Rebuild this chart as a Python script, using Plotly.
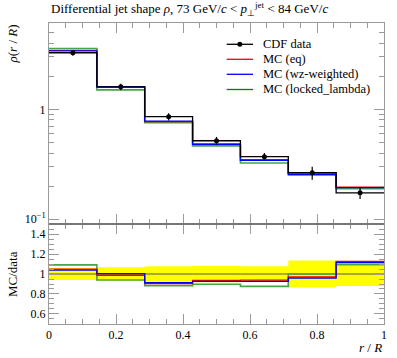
import plotly.graph_objects as go

# ---- data ----
bin_edges = [0.0, 0.1429, 0.2857, 0.4286, 0.5714, 0.7143, 0.8571, 1.0]
bin_centers = [0.0714, 0.2143, 0.3571, 0.5, 0.6429, 0.7857, 0.9286]
data_vals = [3.27, 1.60, 0.857, 0.518, 0.371, 0.265, 0.174]
data_errs = [0.196, 0.107, 0.066, 0.043, 0.029, 0.036, 0.021]
mc_eq = [3.43, 1.58, 0.774, 0.485, 0.348, 0.257, 0.196]
mc_wz = [3.40, 1.605, 0.782, 0.480, 0.344, 0.254, 0.194]
mc_locked = [3.57, 1.504, 0.757, 0.465, 0.325, 0.265, 0.190]

title_html = ("Differential jet shape <i>ρ</i>, 73 GeV/<i>c</i> &lt; "
              "<i>p</i><sub>⊥</sub><sup>jet</sup> &lt; 84 GeV/<i>c</i>")
legend_names = ["CDF data", "MC (eq)", "MC (wz-weighted)", "MC (locked_lambda)"]

FONT = "Liberation Serif"
FRAME = "#9a9a9a"


def step(vals):
    return list(vals) + [vals[-1]]


fig = go.Figure()

series = [
    (mc_locked, "rgb(70,165,70)", 1.6),
    (mc_eq, "red", 1.3),
    (mc_wz, "blue", 1.3),
]

# ---- main panel ----
for vals, col, w in series:
    fig.add_trace(go.Scatter(x=bin_edges, y=step(vals), mode="lines",
                             line=dict(color=col, width=w, shape="hv"),
                             xaxis="x2", yaxis="y2", showlegend=False))
fig.add_trace(go.Scatter(x=bin_edges, y=step(data_vals), mode="lines",
                         line=dict(color="black", width=1.3, shape="hv"),
                         xaxis="x2", yaxis="y2", showlegend=False))
fig.add_trace(go.Scatter(x=bin_centers, y=data_vals, mode="markers",
                         marker=dict(color="black", size=5),
                         error_y=dict(type="data", array=data_errs, color="black",
                                      thickness=1.2, width=0),
                         xaxis="x2", yaxis="y2", showlegend=False))

# ---- ratio panel ----
rel = [e / v for e, v in zip(data_errs, data_vals)]
lo = [1 - r for r in rel]
hi = [1 + r for r in rel]
fig.add_trace(go.Scatter(x=bin_edges, y=step(lo), mode="lines",
                         line=dict(width=0, shape="hv", color="yellow"),
                         showlegend=False, hoverinfo="skip"))
fig.add_trace(go.Scatter(x=bin_edges, y=step(hi), mode="lines",
                         line=dict(width=0, shape="hv", color="yellow"),
                         fill="tonexty", fillcolor="#ffff00",
                         showlegend=False, hoverinfo="skip"))
fig.add_trace(go.Scatter(x=bin_edges, y=step([1.0] * len(data_vals)), mode="lines",
                         line=dict(color="#555555", width=1, shape="hv"),
                         showlegend=False))
for vals, col, w in series:
    ratio = [m / d for m, d in zip(vals, data_vals)]
    fig.add_trace(go.Scatter(x=bin_edges, y=step(ratio), mode="lines",
                             line=dict(color=col, width=w, shape="hv"),
                             showlegend=False))

# ---- axes ----
common_x = dict(range=[0, 1], showgrid=False, zeroline=False, showline=True,
                linecolor=FRAME, linewidth=1, mirror="ticks", ticks="inside",
                ticklen=10, tickcolor=FRAME, automargin=False,
                minor=dict(ticks="inside", ticklen=5, dtick=0.05, tick0=0,
                           tickcolor=FRAME))
fig.update_layout(
    width=397, height=358, autosize=False,
    margin=dict(l=49, r=13, t=23, b=34),
    paper_bgcolor="white", plot_bgcolor="white",
    font=dict(family=FONT, size=12, color="black"),
    xaxis=dict(**common_x, anchor="y", tickvals=[0, 0.2, 0.4, 0.6, 0.8, 1],
               ticktext=["0", "0.2", "0.4", "0.6", "0.8", "1"],
               tickfont=dict(family=FONT, size=12)),
    xaxis2=dict(**common_x, anchor="y2", matches="x", showticklabels=False,
                tickvals=[0, 0.2, 0.4, 0.6, 0.8, 1]),
    yaxis=dict(domain=[0, 0.3322], range=[0.5, 1.5], showgrid=False, zeroline=False,
               showline=True, linecolor=FRAME, mirror="ticks", ticks="inside",
               ticklen=10, tickcolor=FRAME, automargin=False,
               tickvals=[0.6, 0.8, 1.0, 1.2, 1.4],
               ticktext=["0.6", "0.8", "1", "1.2", "1.4"],
               minor=dict(ticks="inside", ticklen=5, dtick=0.05, tick0=0.5,
                          tickcolor=FRAME),
               tickfont=dict(family=FONT, size=12)),
    yaxis2=dict(domain=[0.3322, 1], type="log", range=[-1.043, 0.785],
                showgrid=False, zeroline=False, showline=True, linecolor=FRAME,
                mirror="ticks", ticks="inside", ticklen=10, tickcolor=FRAME,
                automargin=False,
                tickvals=[0.1, 1], ticktext=["10<sup>−1</sup>", "1"],
                minor=dict(ticks="inside", ticklen=5, tickcolor=FRAME,
                           tickvals=[0.2, 0.3, 0.4, 0.5, 0.6, 0.7, 0.8, 0.9,
                                     2, 3, 4, 5]),
                tickfont=dict(family=FONT, size=12)),
)

# panel separator
fig.add_shape(type="line", xref="paper", yref="paper", x0=0, x1=1, y0=0.3322, y1=0.3322,
              line=dict(color="#555555", width=1))

# ---- labels ----
fig.add_annotation(text=title_html, xref="paper", yref="paper", x=0, y=1,
                   xanchor="left", yanchor="bottom", yshift=3, showarrow=False,
                   font=dict(family=FONT, size=13))
fig.add_annotation(text="<i>ρ</i>(<i>r</i> / <i>R</i>)", xref="paper", yref="paper",
                   x=0, xshift=-37, y=1, yanchor="top", xanchor="center",
                   textangle=-90, showarrow=False, font=dict(family=FONT, size=13))
fig.add_annotation(text="MC/data", xref="paper", yref="paper",
                   x=0, xshift=-37, y=0.166, yanchor="middle", xanchor="center",
                   textangle=-90, showarrow=False, font=dict(family=FONT, size=13))
fig.add_annotation(text="<i>r</i> / <i>R</i>", xref="paper", yref="paper",
                   x=1, y=0, yshift=-23, xanchor="right", yanchor="middle",
                   showarrow=False, font=dict(family=FONT, size=13))

# ---- legend (manual) ----
leg_cols = ["black", "red", "blue", "green"]
x0_px, x1_px, xt_px = 226.7, 253, 260.7
y_px = [44.3, 59.3, 74.3, 89.5]
W, H = 397, 358
plot_l, plot_w = 49, 397 - 49 - 13
plot_b, plot_h = 34, 358 - 23 - 34
for name, col, yp in zip(legend_names, leg_cols, y_px):
    yy = (H - yp - plot_b) / plot_h
    fig.add_shape(type="line", xref="paper", yref="paper",
                  x0=(x0_px - plot_l) / plot_w, x1=(x1_px - plot_l) / plot_w,
                  y0=yy, y1=yy, line=dict(color=col, width=1.3))
    fig.add_annotation(text=name, xref="paper", yref="paper",
                       x=(xt_px - plot_l) / plot_w, y=yy, xanchor="left",
                       yanchor="middle", showarrow=False,
                       font=dict(family=FONT, size=12.5))
# marker dot on data legend entry
cx = ((x0_px + x1_px) / 2 - plot_l) / plot_w
cy = (H - y_px[0] - plot_b) / plot_h
fig.add_shape(type="circle", xref="paper", yref="paper", xsizemode="pixel",
              ysizemode="pixel", xanchor=cx, yanchor=cy, x0=-2.5, x1=2.5,
              y0=-2.5, y1=2.5, fillcolor="black", line=dict(color="black", width=0))

fig.write_html("out.html", config={"displayModeBar": False},
               post_script="document.body.style.margin='0';document.body.style.overflow='hidden';")
